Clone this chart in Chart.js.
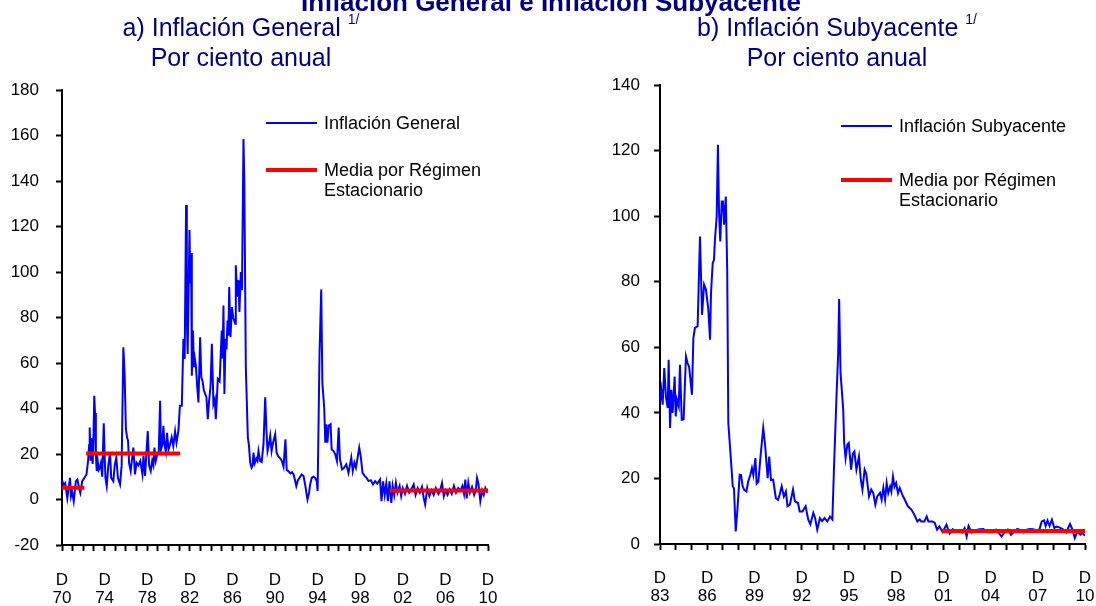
<!DOCTYPE html>
<html lang="es">
<head>
<meta charset="utf-8">
<title>Inflación General e Inflación Subyacente</title>
<script src="https://cdn.jsdelivr.net/npm/chart.js"></script>
<style>
  body { margin: 0; background: #fff; width: 1096px; height: 606px; overflow: hidden; position: relative;
         font-family: 'Liberation Sans', Arial, sans-serif; }
  .titulo { position: absolute; left: 3px; width: 1096px; top: -13px; text-align: center;
            font-weight: bold; font-size: 26px; color: #000080; white-space: nowrap; }
  .sub { position: absolute; top: 12px; width: 548px; text-align: center; font-size: 25px;
         line-height: 30px; color: #000080; white-space: nowrap; }
  .sub span { font-size: 14px; position: relative; top: -12px; line-height: 0; }
  .panel { position: absolute; top: 0; width: 548px; height: 606px; }
</style>
</head>
<body>
<div class="panel" style="left:0"><canvas id="general"></canvas></div>
<div class="panel" style="left:548px"><canvas id="subyacente"></canvas></div>

<div class="titulo">Inflación General e Inflación Subyacente</div>
<div class="sub" style="left:-33px">a) Inflación General <span>1/</span><br>Por ciento anual</div>
<div class="sub" style="left:563px">b) Inflación Subyacente <span>1/</span><br>Por ciento anual</div>

<script>
// x = años transcurridos desde diciembre del año inicial (D70 / D83)
const generalT = [0, 0.15, 0.3, 0.5, 0.6, 0.75, 0.85, 0.95, 1.1, 1.3, 1.45, 1.6, 1.72, 1.9, 2.1, 2.3, 2.45, 2.55, 2.6, 2.68,
  2.75, 2.82, 2.88, 2.95, 3.03, 3.1, 3.18, 3.26, 3.35, 3.45, 3.54, 3.65, 3.78, 3.92, 4.0, 4.08, 4.2, 4.35, 4.51, 4.62,
  4.82, 4.95, 5.1, 5.25, 5.45, 5.6, 5.76, 5.88, 6.0, 6.12, 6.2, 6.3, 6.45, 6.58, 6.7, 6.85, 7.0, 7.17, 7.35, 7.55,
  7.65, 7.8, 8.05, 8.18, 8.33, 8.47, 8.58, 8.68, 8.8, 8.95, 9.08, 9.21, 9.3, 9.42, 9.52, 9.62, 9.75, 9.86, 10.0, 10.15,
  10.3, 10.45, 10.62, 10.75, 10.93, 11.07, 11.25, 11.4, 11.52, 11.65, 11.72, 11.8, 11.97, 12.05, 12.12, 12.19, 12.3, 12.38, 12.47, 12.57,
  12.69, 12.81, 12.97, 13.08, 13.2, 13.32, 13.44, 13.56, 13.69, 13.8, 13.95, 14.07, 14.22, 14.35, 14.44, 14.55, 14.63, 14.8, 15.0, 15.08,
  15.16, 15.25, 15.35, 15.45, 15.54, 15.62, 15.7, 15.82, 15.95, 16.08, 16.2, 16.26, 16.32, 16.45, 16.57, 16.66, 16.79, 16.9, 17.04, 17.12,
  17.26, 17.45, 17.55, 17.67, 17.8, 17.9, 17.98, 18.1, 18.25, 18.35, 18.45, 18.6, 18.75, 18.92, 19.08, 19.2, 19.3, 19.42, 19.55, 19.68,
  19.82, 20.02, 20.15, 20.3, 20.5, 20.65, 20.8, 20.98, 21.1, 21.25, 21.45, 21.6, 21.75, 21.9, 22.0, 22.15, 22.3, 22.5, 22.68, 22.85,
  23.05, 23.2, 23.3, 23.45, 23.6, 23.78, 23.92, 24.0, 24.18, 24.34, 24.45, 24.62, 24.72, 24.82, 24.92, 25.05, 25.22, 25.32, 25.5, 25.65,
  25.82, 25.98, 26.1, 26.3, 26.5, 26.7, 26.9, 27.16, 27.3, 27.45, 27.6, 27.91, 28.05, 28.22, 28.4, 28.6, 28.78, 29.0, 29.2, 29.4,
  29.6, 29.86, 30.0, 30.15, 30.3, 30.45, 30.6, 30.75, 30.92, 31.05, 31.2, 31.35, 31.5, 31.7, 31.85, 32.0, 32.2, 32.4, 32.6, 32.8,
  33.02, 33.2, 33.4, 33.6, 33.8, 33.95, 34.1, 34.3, 34.5, 34.7, 34.9, 35.1, 35.35, 35.5, 35.68, 35.85, 36.0, 36.2, 36.4, 36.6,
  36.8, 37.0, 37.2, 37.4, 37.6, 37.75, 37.87, 38.0, 38.15, 38.3, 38.5, 38.7, 38.85, 38.97, 39.1, 39.28, 39.45, 39.6, 39.75, 39.9, 40.0];
const generalV = [8.5, 6.5, 7.2, 0.5, 4, 9.5, 1.5, 3.5, -0.7, 8, 8.8, 5, 2.9, 8.1, 9.5, 11, 17, 24, 31.6, 17,
  27, 20, 15.6, 26, 45.6, 38, 20, 12.5, 17, 13, 13.8, 16, 10, 33.5, 20, 9.5, 5.9, 15, 20.6, 9.5,
  8, 15, 18.5, 9.5, 6.6, 15, 66.9, 55, 31, 27, 26, 16, 12.5, 18, 22.8, 11, 16.2, 15, 17, 11.1,
  19.3, 10.4, 30.1, 15, 12.5, 17, 15, 22.8, 17, 20, 20, 43.4, 22, 24, 32.4, 24.3, 21, 29.3, 22, 24.3,
  27.4, 23.5, 29.9, 25, 30.1, 41.2, 41.2, 70.6, 61.8, 129.5, 80, 64, 118.5, 95, 108.3, 54.4, 74.3, 58.1, 62, 58.9,
  50, 42.7, 71.3, 53.7, 52, 48, 46.4, 45, 35.3, 42.7, 50, 68.4, 41.9, 44, 35.3, 45, 53, 52, 74.3, 62,
  85.3, 46.4, 70.6, 66, 78.7, 72, 93.4, 71.3, 84.6, 80, 78, 77.3, 103, 89, 96.4, 82.4, 100, 92, 158.5, 140,
  58.1, 27.2, 24, 16.2, 14, 15, 20.6, 16, 18, 17, 21.3, 17, 16.5, 24.3, 44.9, 30, 21.3, 24, 28, 21.3,
  25, 28.7, 20.6, 19, 18, 16.9, 14.5, 26.5, 13, 12.5, 11.5, 12, 11, 8, 5.9, 8.5, 9.5, 11, 10.3, 6,
  0, 3, 6.6, 9.5, 10, 9.5, 8, 3.7, 64, 92.3, 50.8, 40.4, 25, 33.1, 25, 32.5, 33.1, 22, 21.3, 20,
  16.9, 31.6, 17.6, 13.2, 14, 15.4, 11.7, 18.4, 12.6, 16.2, 14, 22.8, 19, 11.7, 10.5, 9.5, 8.1, 8.5, 6.6, 8.1,
  7, 8.8, -0.7, 8, 2, 7, -0.7, 8, -1.5, 6, 2, 7.3, 3, 6, 1.5, 5, 2.5, 6, 3, 4.5,
  6.6, 2, 5, 3, 5.5, 1, -2.2, 5, 1.5, 4, 2, 5, 2.5, 4, 7.3, 1.5, 4, 2, 4.5, 2.5,
  6, 3, 5, 4, 6, 2.5, 8.8, 0.5, 7.3, 3, 5.5, 2, 4, 9.5, 7, -0.7, 4, 2, 5, 3.5, 4.5];

const coreT = [0, 0.08, 0.17, 0.27, 0.38, 0.49, 0.55, 0.64, 0.72, 0.8, 0.93, 1.0, 1.08, 1.19, 1.27, 1.38, 1.5, 1.65, 1.75, 1.85,
  2.03, 2.12, 2.22, 2.39, 2.54, 2.67, 2.8, 2.92, 3.07, 3.18, 3.24, 3.35, 3.43, 3.49, 3.6, 3.68, 3.75, 3.83, 3.92, 4.0,
  4.07, 4.18, 4.27, 4.34, 4.55, 4.62, 4.7, 4.81, 4.91, 4.98, 5.06, 5.15, 5.25, 5.35, 5.49, 5.6, 5.74, 5.84, 5.93, 6.06,
  6.14, 6.25, 6.4, 6.56, 6.68, 6.84, 6.94, 7.05, 7.19, 7.36, 7.5, 7.6, 7.73, 7.87, 8.0, 8.1, 8.25, 8.45, 8.57, 8.77,
  8.87, 9.05, 9.25, 9.42, 9.55, 9.74, 9.85, 9.99, 10.16, 10.3, 10.45, 10.63, 10.8, 10.95, 11.05, 11.22, 11.32, 11.38, 11.47, 11.64,
  11.7, 11.79, 11.9, 11.99, 12.14, 12.25, 12.35, 12.48, 12.64, 12.75, 12.86, 13.0, 13.1, 13.28, 13.42, 13.55, 13.68, 13.8, 13.98, 14.08,
  14.19, 14.3, 14.4, 14.5, 14.62, 14.7, 14.8, 14.9, 15.0, 15.12, 15.23, 15.4, 15.55, 15.75, 15.97, 16.15, 16.35, 16.5, 16.6, 16.8,
  16.94, 17.05, 17.3, 17.45, 17.6, 17.75, 17.95, 18.2, 18.4, 18.6, 18.8, 19.0, 19.2, 19.35, 19.48, 19.6, 19.8, 20.05, 20.3, 20.55,
  20.8, 21.1, 21.35, 21.5, 21.7, 21.9, 22.1, 22.3, 22.5, 22.7, 22.9, 23.1, 23.3, 23.5, 23.7, 23.9, 24.1, 24.25, 24.4, 24.5,
  24.62, 24.75, 24.9, 25.05, 25.2, 25.4, 25.6, 25.8, 26.05, 26.2, 26.35, 26.5, 26.7, 26.85, 27.0];
const coreV = [43.5, 47, 42.5, 53.7, 44.7, 41.5, 56.2, 35.4, 47, 40, 51.1, 38.9, 44, 42, 54.7, 37.9, 38, 57.2, 55.2, 54,
  45.5, 62.8, 65.9, 66.4, 93.8, 69.9, 79.1, 77.6, 71.5, 62.3, 76.5, 85.7, 86.7, 92.8, 99.9, 121.8, 101, 92.3, 104.5, 104.5,
  97.4, 106, 83.6, 36.9, 22.7, 17.6, 17, 3.8, 9.9, 15, 21.1, 21, 17.6, 16.5, 16, 19, 21.1, 23.2, 21, 26.2,
  18.4, 19, 27.5, 35.4, 30, 20.1, 26.7, 19.5, 19.6, 14, 13.5, 15, 17.6, 14.5, 16, 11.5, 12, 16.6, 13, 12.5,
  9.9, 9.9, 11.5, 7.4, 6, 9.5, 8, 4.4, 7.9, 7, 7.9, 6.9, 8.4, 7.5, 22.7, 46, 58.2, 74.7, 52.1, 41,
  30.8, 26.2, 30.3, 30.8, 22.7, 27.5, 28.2, 22.7, 26.7, 20, 16.6, 22.7, 21.5, 14.5, 16.6, 15.5, 12, 14.5, 15.6, 13.5,
  17.1, 13.5, 18.6, 15.5, 17.5, 16, 20.6, 17.5, 18.6, 15.5, 17.1, 15, 13.5, 11.5, 10.5, 9, 6.9, 7.5, 6.9, 6.9,
  8.4, 6.9, 6.9, 6.5, 4.4, 5.4, 3.7, 5.9, 3.2, 4.5, 3.7, 4.3, 3.5, 4.8, 2.3, 5.5, 3.5, 4.2, 4.5, 4.6,
  3.6, 3.6, 4.4, 3.5, 2.3, 3.6, 4.4, 2.8, 3.8, 4.6, 4.2, 3.5, 4.4, 4.6, 4.5, 4.2, 4.4, 6.9, 7.2, 5.5,
  7.2, 5.5, 7.4, 4.9, 5.3, 5.0, 4.5, 3.5, 6.1, 4.5, 1.8, 3.7, 2.8, 3.3, 2.5];

// medias por régimen estacionario: inicio, fin y nivel
const generalRegStart = [0, 2.27, 30.76];
const generalRegEnd = [2.1, 11.1, 40];
const generalRegMean = [5.2, 20.2, 4.0];
const coreRegStart = [17.9];
const coreRegEnd = [27];
const coreRegMean = [4.0];

// etiquetas del eje x ("D" = diciembre)
const generalTickYears = ['70', '74', '78', '82', '86', '90', '94', '98', '02', '06', '10'];
const coreTickYears = ['83', '86', '89', '92', '95', '98', '01', '04', '07', '10'];

Chart.defaults.font.family = "'Liberation Sans', Arial, sans-serif";
Chart.defaults.color = '#000';

function serie(ts, vs) {
  return ts.map((t, i) => ({ x: t, y: vs[i] }));
}

function regimenes(starts, ends, means) {
  const pts = [];
  starts.forEach((s, i) => {
    pts.push({ x: s, y: means[i] }, { x: ends[i], y: means[i] }, { x: ends[i], y: null });
  });
  return pts;
}

// leyenda dibujada dentro del área del gráfico
const leyenda = {
  id: 'leyenda',
  afterDraw(chart, args, opts) {
    const ctx = chart.ctx;
    ctx.save();
    ctx.font = "18px 'Liberation Sans', Arial, sans-serif";
    ctx.fillStyle = '#000';
    ctx.textBaseline = 'middle';
    ctx.textAlign = 'left';
    opts.items.forEach(it => {
      const ds = chart.data.datasets[it.dataset];
      ctx.strokeStyle = ds.borderColor;
      ctx.lineWidth = ds.borderWidth;
      ctx.beginPath();
      ctx.moveTo(opts.x, it.y);
      ctx.lineTo(opts.x + opts.len, it.y);
      ctx.stroke();
      ds.label.split('\n').forEach((line, k) => {
        ctx.fillText(line, opts.x + opts.len + 7, it.y + 1.5 + k * 19.5);
      });
    });
    ctx.restore();
  }
};

function crearGrafico(id, cfg) {
  const span = cfg.span;
  return new Chart(document.getElementById(id), {
    type: 'line',
    data: {
      datasets: [
        {
          label: 'Media por Régimen\nEstacionario',
          data: regimenes(cfg.regStart, cfg.regEnd, cfg.regMean),
          borderColor: '#ff0000',
          borderWidth: 4,
          pointRadius: 0,
          spanGaps: false,
          tension: 0
        },
        {
          label: cfg.label,
          data: serie(cfg.t, cfg.v),
          borderColor: '#0000ff',
          borderWidth: 2,
          pointRadius: 0,
          tension: 0
        }
      ]
    },
    options: {
      responsive: true,
      maintainAspectRatio: false,
      animation: false,
      layout: { padding: cfg.padding },
      plugins: {
        legend: { display: false },
        tooltip: { enabled: false },
        leyenda: cfg.leyenda
      },
      scales: {
        x: {
          type: 'linear',
          min: 0,
          max: span,
          afterBuildTicks: (scale) => {
            scale.ticks = Array.from({ length: span + 1 }, (_, i) => ({ value: i }));
          },
          afterFit: (scale) => {
            // el margen lateral lo fija layout.padding
            scale.height = cfg.xHeight;
            scale.paddingLeft = 0;
            scale.paddingRight = 0;
          },
          ticks: {
            autoSkip: false,
            maxRotation: 0,
            padding: cfg.xPad,
            font: { size: 17, lineHeight: 1.08 },
            callback: (v) => (v % cfg.every === 0 ? ['D', cfg.tickYears[v / cfg.every]] : '')
          },
          grid: { drawOnChartArea: false, drawTicks: true, tickLength: 6, tickWidth: 2, tickColor: '#000' },
          border: { color: '#000', width: 2 }
        },
        y: {
          min: cfg.yMin,
          max: cfg.yMax,
          ticks: { stepSize: 20, padding: cfg.yPad, font: { size: 17 } },
          afterFit: (scale) => { scale.width = cfg.yWidth; },
          grid: { drawOnChartArea: false, drawTicks: true, tickLength: 6, tickWidth: 2, tickColor: '#000' },
          border: { color: '#000', width: 2 }
        }
      }
    },
    plugins: [leyenda]
  });
}

crearGrafico('general', {
  label: 'Inflación General',
  t: generalT, v: generalV,
  regStart: generalRegStart, regEnd: generalRegEnd, regMean: generalRegMean,
  span: 40, every: 4, tickYears: generalTickYears,
  yMin: -20, yMax: 180,
  padding: { top: 90, right: 60, left: 0, bottom: 0 },
  yWidth: 62, xHeight: 61, yPad: 17, xPad: 20,
  leyenda: { x: 266, len: 51, items: [{ dataset: 1, y: 123 }, { dataset: 0, y: 170 }] }
});

crearGrafico('subyacente', {
  label: 'Inflación Subyacente',
  t: coreT, v: coreV,
  regStart: coreRegStart, regEnd: coreRegEnd, regMean: coreRegMean,
  span: 27, every: 3, tickYears: coreTickYears,
  yMin: 0, yMax: 140,
  padding: { top: 85, right: 11, left: 0, bottom: 0 },
  yWidth: 112, xHeight: 62, yPad: 14, xPad: 19,
  leyenda: { x: 293, len: 51, items: [{ dataset: 1, y: 126 }, { dataset: 0, y: 180 }] }
});
</script>
</body>
</html>
